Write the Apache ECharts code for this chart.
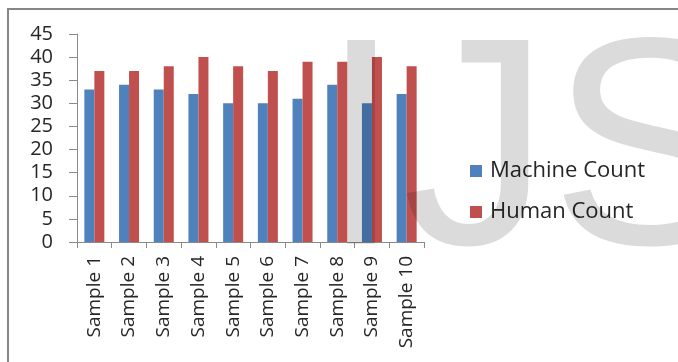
<!DOCTYPE html>
<html>
<head>
<meta charset="utf-8">
<script src="https://cdn.jsdelivr.net/npm/echarts@6/dist/echarts.min.js"></script>
<style>
  html, body { margin: 0; padding: 0; background: #fff; }
  #chart { width: 678px; height: 362px; }
</style>
</head>
<body>
<div id="chart"></div>
<script>
const categories = ["Sample 1", "Sample 2", "Sample 3", "Sample 4", "Sample 5",
  "Sample 6", "Sample 7", "Sample 8", "Sample 9", "Sample 10"];
const machineCount = [33, 34, 33, 32, 30, 30, 31, 34, 30, 32];
const humanCount = [37, 37, 38, 40, 38, 37, 39, 39, 40, 38];
const yMin = 0, yMax = 45, yStep = 5;

const font = "Open Sans";
const textColor = "#262626";
const axisColor = "#8a8a8a";

const chart = echarts.init(document.getElementById("chart"));

let option = {
  backgroundColor: "#fff",
  animation: false,
  textStyle: { fontFamily: font },
  grid: { left: 77, right: 254, top: 34, bottom: 120, containLabel: false },
  legend: {
    orient: "vertical",
    left: 465,
    top: 155,
    itemWidth: 12,
    itemHeight: 12,
    itemGap: 19,
    icon: "rect",
    textStyle: { fontFamily: font, fontSize: 22, lineHeight: 22, color: textColor, padding: [0, 0, 0, 3] },
    data: ["Machine Count", "Human Count"]
  },
  xAxis: {
    type: "category",
    data: categories,
    boundaryGap: true,
    axisLine: { lineStyle: { color: axisColor, width: 1 } },
    axisTick: { show: true, length: 6, lineStyle: { color: axisColor } },
    axisLabel: {
      rotate: 90,
      interval: 0,
      margin: 14,
      fontFamily: font,
      fontSize: 19,
      color: textColor
    }
  },
  yAxis: {
    type: "value",
    min: yMin,
    max: yMax,
    interval: yStep,
    splitLine: { show: false },
    axisLine: { show: true, lineStyle: { color: axisColor, width: 1 } },
    axisTick: { show: true, length: 8, lineStyle: { color: axisColor } },
    axisLabel: { margin: 24, fontFamily: font, fontSize: 20, color: textColor }
  },
  series: [
    {
      name: "Machine Count",
      type: "bar",
      barWidth: 10,
      barGap: "0%",
      itemStyle: { color: "#4f81bd" },
      data: machineCount
    },
    {
      name: "Human Count",
      type: "bar",
      barWidth: 10,
      itemStyle: { color: "#c0504d" },
      data: humanCount
    }
  ],
  graphic: [
    // frame of the chart area
    {
      type: "rect",
      z: 100,
      shape: { x: 8, y: 9, width: 720, height: 400 },
      style: { fill: "none", stroke: "#878787", lineWidth: 2 }
    },
    // watermark over the plot
    {
      type: "text",
      z: 90,
      style: {
        text: "IJS",
        x: 320,
        y: 162,
        font: "296px 'Liberation Sans'",
        fill: "rgba(0,0,0,0.14)",
        verticalAlign: "middle"
      }
    }
  ]
};

chart.setOption(option);
</script>
</body>
</html>
